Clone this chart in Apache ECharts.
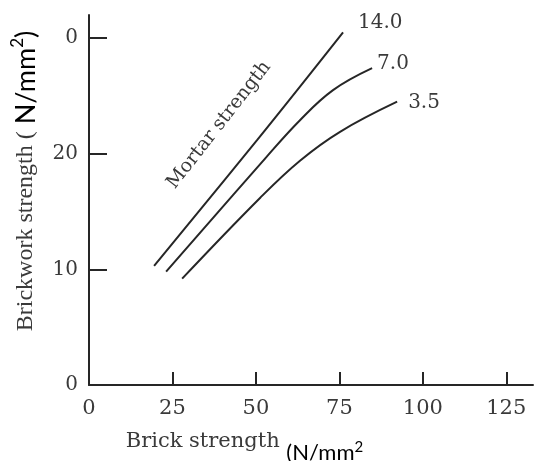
<!DOCTYPE html>
<html>
<head>
<meta charset="utf-8">
<script src="https://cdn.jsdelivr.net/npm/echarts@6/dist/echarts.min.js"></script>
<style>html,body{margin:0;padding:0;background:#fff;}#chart{width:535px;height:461px;}</style>
</head>
<body>
<div id="chart"></div>
<script>
// Data
const seriesNames = ['14.0', '7.0', '3.5'];
const mortar14 = [[19.5, 10.3], [50.4, 21.2], [76.1, 30.5]];
const mortar7 = [[23.1, 9.8], [52.8, 19.6], [63.2, 22.9], [73.1, 25.5], [84.8, 27.4]];
const mortar35 = [[27.9, 9.2], [51.3, 16.2], [63.2, 19.4], [75.2, 21.9], [92.3, 24.5]];
const xTickValues = [0, 25, 50, 75, 100, 125];
const xTickLabels = ['0', '25', '50', '75', '100', '125'];
const yTickValues = [0, 10, 20, 30];
const yTickLabels = ['0', '10', '20', '0'];

const serif = '"DejaVu Serif"';
const lineColor = '#262626';
const textColor = '#3a3a3a';

const chart = echarts.init(document.getElementById('chart'), null, {renderer: 'canvas'});
const labelOffsets = [[7, -10], [-3, -4], [3, 1]];
const datasets = [mortar14, mortar7, mortar35];

chart.setOption({
  animation: false,
  backgroundColor: '#fff',
  grid: {left: 89, right: 2, top: 15, bottom: 76, containLabel: false, outerBoundsMode: 'none'},
  xAxis: {
    type: 'value', min: 0, max: 133,
    splitLine: {show: false},
    axisLine: {lineStyle: {color: lineColor, width: 2}},
    axisTick: {inside: true, length: 13, customValues: xTickValues, lineStyle: {color: lineColor, width: 2}},
    axisLabel: {
      customValues: xTickValues, margin: 13,
      formatter: v => xTickLabels[xTickValues.indexOf(v)],
      fontFamily: serif, fontSize: 21, color: textColor
    },
    name: '{a|Brick strength }{b|(N/mm}{s|2}',
    nameLocation: 'middle', nameGap: 46,
    nameTextStyle: {
      padding: [0, 133, 0, 0],
      rich: {
        a: {fontFamily: serif, fontSize: 21, color: textColor, lineHeight: 24, verticalAlign: 'top'},
        b: {fontFamily: 'Lato', fontSize: 22, color: '#000', lineHeight: 33, verticalAlign: 'bottom'},
        s: {fontFamily: 'Lato', fontSize: 15, color: '#000', lineHeight: 16, verticalAlign: 'middle'}
      }
    }
  },
  yAxis: {
    type: 'value', min: 0, max: 32,
    splitLine: {show: false},
    axisLine: {lineStyle: {color: lineColor, width: 2}},
    axisTick: {inside: true, length: 18, customValues: yTickValues, lineStyle: {color: lineColor, width: 2}},
    axisLabel: {
      customValues: yTickValues, margin: 11,
      formatter: v => yTickLabels[yTickValues.indexOf(v)],
      fontFamily: serif, fontSize: 20, color: textColor
    },
    name: '{a|Brickwork strength (}{b| N/mm}{s|2}{b|)}',
    nameLocation: 'middle', nameRotate: 90, nameGap: 46,
    nameTextStyle: {
      padding: [0, 0, 0, 38],
      rich: {
        a: {fontFamily: '"Liberation Serif"', fontSize: 24, color: textColor, lineHeight: 34},
        b: {fontFamily: 'Lato', fontSize: 27, color: '#000', lineHeight: 34},
        s: {fontFamily: 'Lato', fontSize: 17, color: '#000', lineHeight: 34, verticalAlign: 'top'}
      }
    }
  },
  series: seriesNames.map((name, i) => ({
    name: name,
    type: 'line',
    data: datasets[i],
    smooth: 0.4,
    showSymbol: false,
    symbol: 'none',
    lineStyle: {color: lineColor, width: 2},
    endLabel: {
      show: true, formatter: name, offset: labelOffsets[i],
      fontFamily: serif, fontSize: 20, color: textColor
    }
  })),
  graphic: [{
    type: 'text', x: 219, y: 125, rotation: 52 * Math.PI / 180,
    style: {text: 'Mortar strength', font: '19px "DejaVu Serif"', fill: textColor, align: 'center', verticalAlign: 'middle'}
  }]
});
</script>
</body>
</html>
